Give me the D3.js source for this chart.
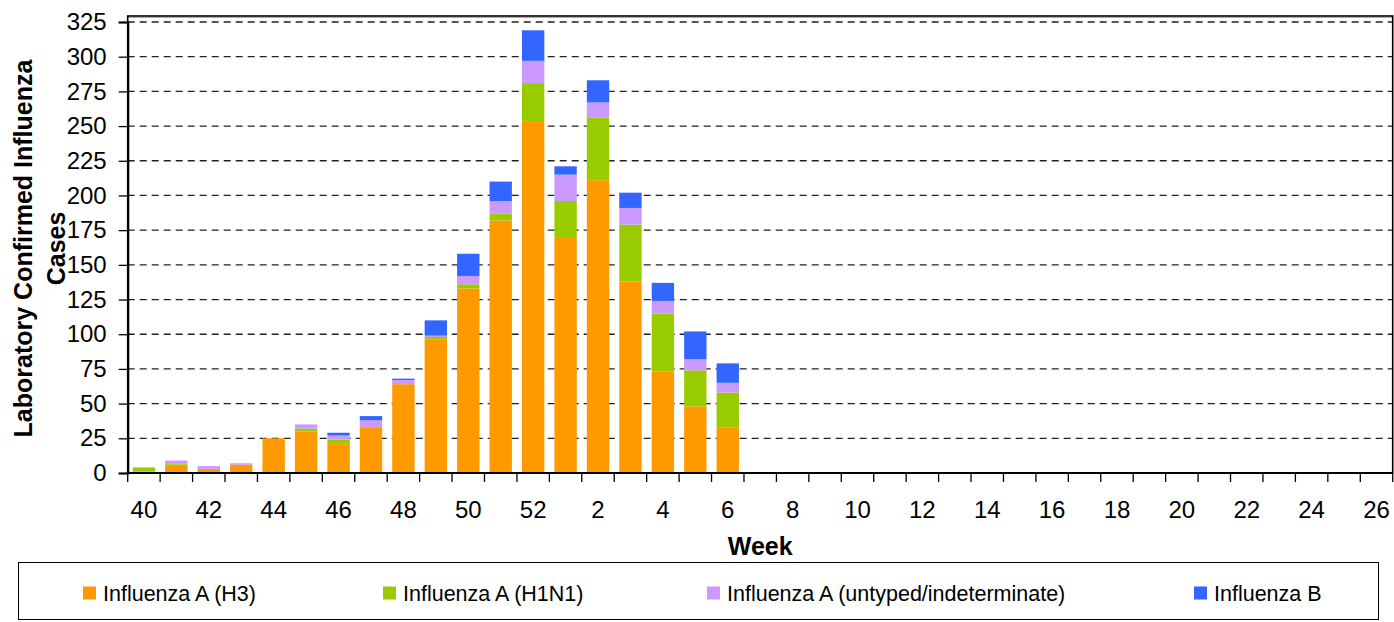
<!DOCTYPE html>
<html>
<head>
<meta charset="utf-8">
<script src="https://cdn.jsdelivr.net/npm/d3@7"></script>
<style>
    body { margin: 0; background: #fff; }
    svg { display: block; font-family: "Liberation Sans", Arial, sans-serif; }
</style>
</head>
<body>
<svg id="chart" width="1394" height="622"></svg>
<script>
(function () {
    'use strict';

    // weeks of the season, 40..52 then 1..26
    const weeks = ["40", "41", "42", "43", "44", "45", "46", "47", "48", "49", "50", "51", "52",
                   "1", "2", "3", "4", "5", "6", "7", "8", "9", "10", "11", "12", "13", "14",
                   "15", "16", "17", "18", "19", "20", "21", "22", "23", "24", "25", "26"];
    const weekTicks = ["40", "42", "44", "46", "48", "50", "52", "2", "4", "6", "8", "10", "12",
                       "14", "16", "18", "20", "22", "24", "26"];

    const seriesNames = ["Influenza A (H3)", "Influenza A (H1N1)",
                         "Influenza A (untyped/indeterminate)", "Influenza B"];
    const seriesColors = ["#FF9900", "#99CC00", "#CC99FF", "#3366FF"];

    // counts per week, weeks 40 to 6 (no data reported after week 6)
    const fluH3      = [1, 6, 3, 6, 25, 30, 21, 33, 64, 96, 133, 182, 253, 170, 211, 138, 73, 48, 33];
    const fluH1N1    = [3, 1, 0, 0, 0, 2, 3, 0, 0, 2, 3, 5, 28, 26, 45, 41, 42, 26, 25];
    const fluUntyped = [0, 2, 2, 1, 0, 3, 3, 5, 3, 1, 6, 9, 16, 19, 11, 12, 9, 8, 7];
    const fluB       = [0, 0, 0, 0, 0, 0, 2, 3, 1, 11, 16, 14, 22, 6, 16, 11, 13, 20, 14];

    const yTicks = d3.range(0, 326, 25);

    const left = 127.7, right = 1392.7, top = 16, zeroY = 473;

    const rows = weeks.map((w, i) => ({
        week: w,
        [seriesNames[0]]: fluH3[i] || 0,
        [seriesNames[1]]: fluH1N1[i] || 0,
        [seriesNames[2]]: fluUntyped[i] || 0,
        [seriesNames[3]]: fluB[i] || 0
    }));

    const stacked = d3.stack().keys(seriesNames)(rows);

    const x = d3.scaleBand()
            .domain(weeks)
            .range([left, right])
            .paddingInner(0.31)
            .paddingOuter(0.155);

    const y = d3.scaleLinear()
            .domain([0, 325])
            .range([zeroY, 22]);

    const color = d3.scaleOrdinal().domain(seriesNames).range(seriesColors);

    const svg = d3.select('#chart');

    // dashed gridlines
    svg.append("g")
            .selectAll("line")
            .data(yTicks.filter(d => d > 0))
            .join("line")
            .attr("x1", left)
            .attr("x2", right)
            .attr("y1", d => y(d))
            .attr("y2", d => y(d))
            .attr("stroke", "#222")
            .attr("stroke-width", 1.3)
            .attr("stroke-dasharray", "7,5");

    // stacked bars
    svg.append("g")
            .selectAll("g")
            .data(stacked)
            .join("g")
            .attr("fill", d => color(d.key))
            .selectAll("rect")
            .data(d => d)
            .join("rect")
            .attr("x", d => x(d.data.week))
            .attr("width", x.bandwidth())
            .attr("y", d => y(d[1]))
            .attr("height", d => y(d[0]) - y(d[1]));

    // plot frame
    svg.append("line")
            .attr("x1", left).attr("x2", right)
            .attr("y1", top + 1.5).attr("y2", top + 1.5)
            .attr("stroke", "#aaa").attr("stroke-width", 1);
    svg.append("rect")
            .attr("x", left)
            .attr("y", top)
            .attr("width", right - left)
            .attr("height", zeroY - top)
            .attr("fill", "none")
            .attr("stroke", "#000")
            .attr("stroke-width", 1.6);

    // y axis
    const yAxis = svg.append("g")
            .attr("transform", `translate(${left},0)`)
            .call(d3.axisLeft(y).tickValues(yTicks).tickSize(9).tickPadding(12));
    yAxis.select(".domain").attr("stroke-width", 2.2);
    yAxis.selectAll(".tick line").attr("stroke-width", 1.3);
    yAxis.selectAll("text")
            .attr("font-size", 24)
            .attr("font-family", "Liberation Sans, Arial, sans-serif")
            .attr("fill", "#000");

    // x axis: ticks on category boundaries, labels on every other week
    const gap = (x.step() - x.bandwidth()) / 2;
    const boundaries = weeks.map(w => x(w) - gap).concat([right]);

    svg.append("line")
            .attr("x1", left).attr("x2", right)
            .attr("y1", zeroY).attr("y2", zeroY)
            .attr("stroke", "#000").attr("stroke-width", 2.2);

    svg.append("g")
            .selectAll("line")
            .data(boundaries)
            .join("line")
            .attr("x1", d => d).attr("x2", d => d)
            .attr("y1", zeroY).attr("y2", zeroY + 9)
            .attr("stroke", "#000").attr("stroke-width", 1.3);

    svg.append("g")
            .selectAll("text")
            .data(weekTicks)
            .join("text")
            .attr("x", d => x(d) + x.bandwidth() / 2)
            .attr("y", 518)
            .attr("text-anchor", "middle")
            .attr("font-size", 24)
            .text(d => d);

    // axis titles
    svg.append("text")
            .attr("x", (left + right) / 2)
            .attr("y", 555)
            .attr("text-anchor", "middle")
            .attr("font-size", 25)
            .attr("font-weight", "bold")
            .text("Week");

    const yTitle = svg.append("text")
            .attr("transform", `translate(32,${(top + zeroY) / 2 + 4}) rotate(-90)`)
            .attr("text-anchor", "middle")
            .attr("font-size", 25)
            .attr("font-weight", "bold");
    yTitle.append("tspan").attr("x", 0).attr("y", 0).text("Laboratory Confirmed Influenza");
    yTitle.append("tspan").attr("x", 0).attr("y", 33).text("Cases");

    // legend
    svg.append("rect")
            .attr("x", 18.5)
            .attr("y", 562.5)
            .attr("width", 1360)
            .attr("height", 57)
            .attr("fill", "#fff")
            .attr("stroke", "#000")
            .attr("stroke-width", 1);

    const legendX = [83, 383, 707, 1194];
    const legendItem = svg.append("g")
            .selectAll("g")
            .data(seriesNames)
            .join("g")
            .attr("transform", (d, i) => `translate(${legendX[i]},593)`);
    legendItem.append("rect")
            .attr("x", 0)
            .attr("y", -6.5)
            .attr("width", 13)
            .attr("height", 13)
            .attr("fill", d => color(d));
    legendItem.append("text")
            .attr("x", 20)
            .attr("y", 8)
            .attr("font-size", 21.5)
            .text(d => d);

}());
</script>
</body>
</html>
